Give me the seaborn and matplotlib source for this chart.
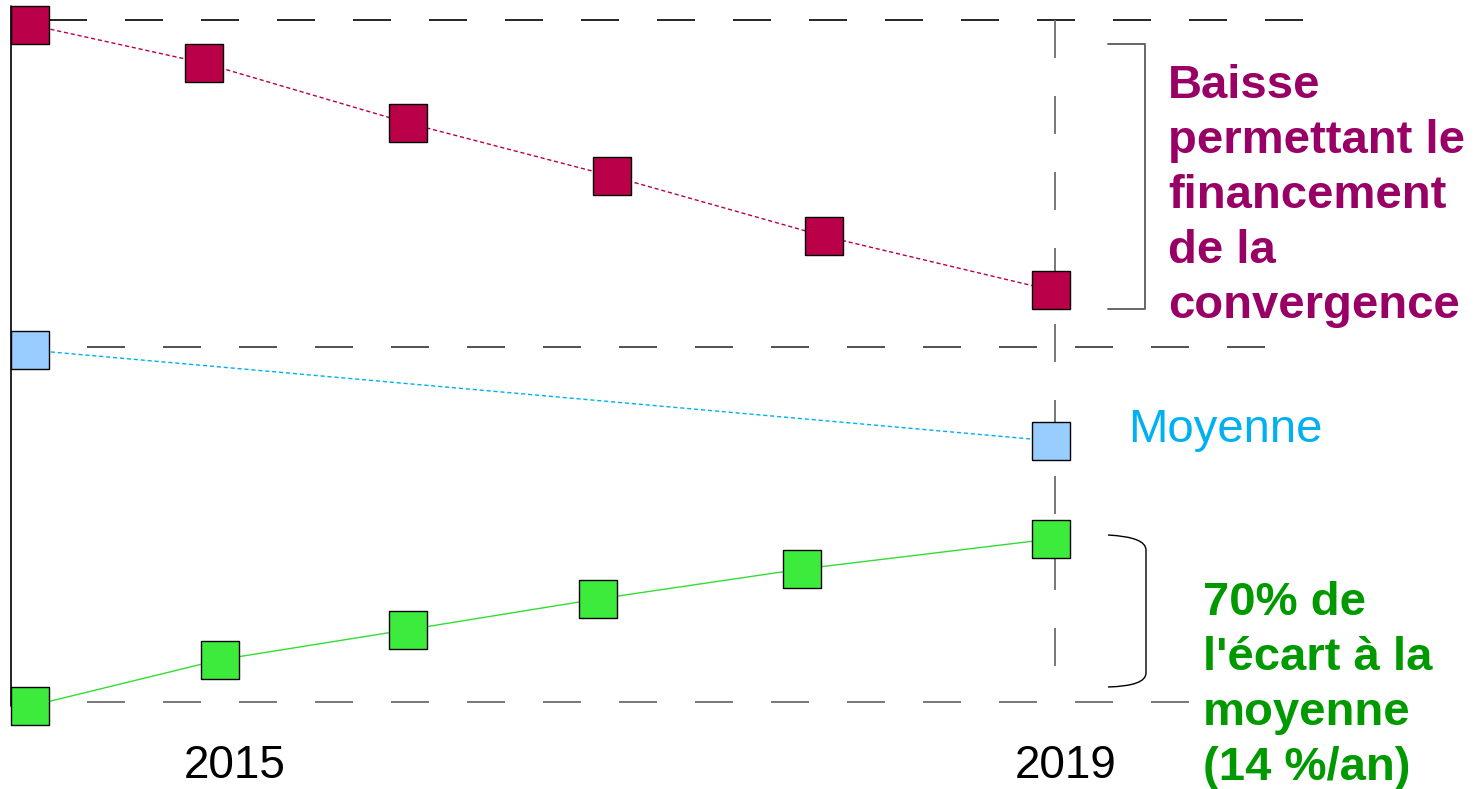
import matplotlib
matplotlib.use('Agg')
import matplotlib.pyplot as plt
from matplotlib.path import Path
from matplotlib.patches import PathPatch
import seaborn as sns

sns.set_theme(style='white')
plt.rcParams['font.family'] = ['Liberation Sans', 'DejaVu Sans']

# Data (x in years, y on an index from 0 to 100)
red_x = [2014.0, 2014.85, 2015.85, 2016.85, 2017.89, 2019.0]
red_y = [99.3, 93.7, 84.9, 77.1, 68.3, 60.4]
blue_x = [2014.0, 2019.0]
blue_y = [51.6, 38.3]
green_x = [2014.0, 2014.93, 2015.85, 2016.78, 2017.78, 2019.0]
green_y = [-0.6, 6.2, 10.6, 15.1, 19.5, 23.9]
ref_levels = [100.0, 52.1, 0.0]
tick_years = [2015.0, 2019.07]
tick_labels = ['2015', '2019']

red_col = '#B90048'
blue_col = '#99CCFF'
green_col = '#3DEB3D'
magenta = '#990066'
cyan = '#00B0F0'
dark_green = '#009900'


# pixel -> data helpers, for annotations only
def px_x(px):
    return 2014.0 + (px - 30) / 204.2


def px_y(py):
    return (702 - py) / 6.82


fig = plt.figure(figsize=(14.74, 7.89), dpi=100)
ax = fig.add_axes([0, 0, 1, 1])
ax.set_xlim(px_x(0), px_x(1474))
ax.set_ylim(px_y(789), px_y(0))
ax.axis('off')


def dashed(lw):
    d = 27.36 / lw
    return (0, (d, d))


# reference lines
ax.plot([px_x(49), px_x(1320)], [ref_levels[0]] * 2, color='black', lw=1.2,
        linestyle=dashed(1.2), zorder=1)
ax.plot([px_x(11), px_x(1282)], [ref_levels[1]] * 2, color='#333333', lw=1.2,
        linestyle=dashed(1.2), zorder=1)
ax.plot([px_x(11), px_x(1205)], [ref_levels[2]] * 2, color='#777777', lw=1.4,
        linestyle=dashed(1.4), zorder=1)
ax.plot([px_x(1055)] * 2, [ref_levels[0], ref_levels[2]], color='#777777', lw=1.4,
        linestyle=dashed(1.4), zorder=1)
# left axis
ax.plot([px_x(11)] * 2, [px_y(6), px_y(706)], color='black', lw=1.2, zorder=1)

# series
sq = dict(marker='s', markersize=27, markeredgecolor='black', markeredgewidth=1)
sns.lineplot(x=red_x, y=red_y, ax=ax, color=red_col, lw=1, linestyle=(0, (3, 2)),
             markerfacecolor=red_col, zorder=3, **sq)
sns.lineplot(x=blue_x, y=blue_y, ax=ax, color='#00B0F0', lw=1, linestyle=(0, (3, 2)),
             markerfacecolor=blue_col, zorder=3, **sq)
sns.lineplot(x=green_x, y=green_y, ax=ax, color='#33DD33', lw=1, linestyle='-',
             markerfacecolor=green_col, zorder=3, **sq)

# brackets
ax.plot([px_x(1108), px_x(1145), px_x(1145), px_x(1108)],
        [px_y(44), px_y(44), px_y(309), px_y(309)], color='#666666', lw=1.4, zorder=2)
verts = [(1108, 535), (1146, 537), (1146, 550), (1146, 673), (1146, 686), (1108, 687)]
verts = [(px_x(a), px_y(b)) for a, b in verts]
codes = [Path.MOVETO, Path.CURVE3, Path.CURVE3, Path.LINETO, Path.CURVE3, Path.CURVE3]
ax.add_patch(PathPatch(Path(verts, codes), fill=False, edgecolor='black', lw=1, zorder=2))

# texts
baisse = ['Baisse', 'permettant le', 'financement', 'de la', 'convergence']
for i, line in enumerate(baisse):
    ax.text(px_x(1168), px_y(98 + 55 * i), line, color=magenta, fontsize=34,
            fontweight='bold', va='baseline', ha='left')

ax.text(px_x(1128), px_y(442), 'Moyenne', color=cyan, fontsize=34,
        va='baseline', ha='left')

ecart = ['70% de', "l'écart à la", 'moyenne', '(14 %/an)']
for i, line in enumerate(ecart):
    ax.text(px_x(1203), px_y(615 + 55 * i), line, color=dark_green, fontsize=34,
            fontweight='bold', va='baseline', ha='left', zorder=4)

for yr, lab in zip(tick_years, tick_labels):
    ax.text(yr, px_y(778), lab, color='black', fontsize=33, va='baseline', ha='center')

fig.savefig('out.png', dpi=100)
